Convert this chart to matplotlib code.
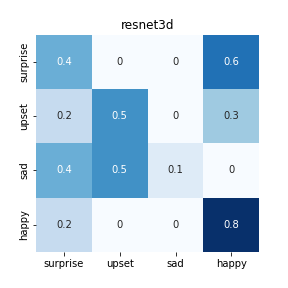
import matplotlib
matplotlib.use("Agg")
import matplotlib.pyplot as plt
import seaborn as sns
import numpy as np

labels = ["surprise", "upset", "sad", "happy"]
row_surprise = [0.4, 0.0, 0.0, 0.6]
row_upset = [0.2, 0.5, 0.0, 0.3]
row_sad = [0.4, 0.5, 0.1, 0.0]
row_happy = [0.2, 0.0, 0.0, 0.8]

data = np.array([row_surprise, row_upset, row_sad, row_happy])
annot = [[("0" if v == 0 else f"{v:g}") for v in r] for r in data]

fig, ax = plt.subplots(figsize=(4, 4), dpi=72)
fig.subplots_adjust(left=0.125, right=0.9, top=0.88, bottom=0.125)
sns.heatmap(data, annot=np.array(annot), fmt="", cmap="Blues", cbar=False,
            xticklabels=labels, yticklabels=labels, ax=ax)
ax.set_title("resnet3d")
fig.savefig("out.png", dpi=72)
